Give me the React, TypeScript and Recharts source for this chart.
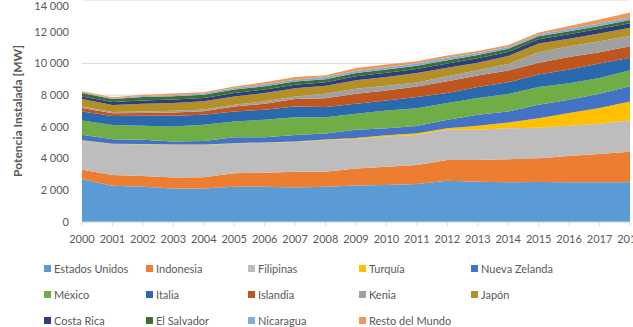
import React from "react";
import { AreaChart, Area, XAxis, YAxis, CartesianGrid } from "recharts";

const years = ["2000","2001","2002","2003","2004","2005","2006","2007","2008","2009","2010","2011","2012","2013","2014","2015","2016","2017","2018"];

const estadosUnidos = [2690,2280,2220,2120,2120,2220,2220,2180,2220,2300,2330,2390,2600,2535,2500,2520,2500,2500,2500];
const indonesia     = [610,680,680,690,700,850,890,990,950,1080,1155,1200,1310,1375,1455,1495,1660,1790,1935];
const filipinas     = [1830,1960,2000,2050,2040,1880,1880,1870,1990,1860,1900,1900,1900,1900,1965,1935,1905,1900,1965];
const turquia       = [20,20,20,20,20,20,30,40,40,60,80,100,110,255,355,600,805,995,1205];
const nuevaZelanda  = [350,280,260,190,230,380,330,410,380,510,450,470,525,700,695,845,840,905,950];
const mexico        = [900,900,890,950,1020,990,1100,1120,1020,1015,1115,1120,1060,1060,1105,1120,1040,995,1015];
const italia        = [570,570,630,680,640,630,630,670,650,635,635,700,635,695,735,780,860,905,785];
const islandia      = [215,170,170,210,210,320,380,470,550,635,635,670,735,715,740,755,800,715,735];
const kenia         = [105,80,100,110,110,110,150,160,280,315,300,250,315,335,420,650,675,695,635];
const japon         = [470,440,490,490,520,520,530,530,520,525,550,600,530,480,500,550,470,490,530];
const costaRica     = [160,190,210,210,210,220,210,210,210,250,255,250,275,280,250,270,290,295,275];
const elSalvador    = [220,190,215,210,210,210,210,210,200,210,210,210,210,200,210,200,190,170,210];
const nicaragua     = [50,50,60,70,70,100,110,110,140,130,125,130,150,120,110,110,150,170,150];
const restoDelMundo = [50,60,80,100,90,100,140,170,100,180,190,150,150,130,120,120,180,250,315];

const yTicks = [0,2000,4000,6000,8000,10000,12000,14000];

const seriesNames = ["Estados Unidos","Indonesia","Filipinas","Turquía","Nueva Zelanda","México","Italia","Islandia","Kenia","Japón","Costa Rica","El Salvador","Nicaragua","Resto del Mundo"];
const seriesValues = [estadosUnidos,indonesia,filipinas,turquia,nuevaZelanda,mexico,italia,islandia,kenia,japon,costaRica,elSalvador,nicaragua,restoDelMundo];
const seriesColors = ["#5B9BD5","#ED7D31","#BDBDBD","#FFC000","#4472C4","#70AD47","#2A69AE","#C0561F","#A0A0A0","#B38F26","#2B3F7E","#3F6E30","#7CAFDD","#F1975A"];

const data = years.map((y, i) => {
  const row: Record<string, string | number> = { year: y };
  seriesNames.forEach((n, k) => { row[n] = seriesValues[k][i]; });
  return row;
});

const fmt = (v: number) => String(v).replace(/\B(?=(\d{3})+(?!\d))/g, " ");

const FONT = "Lato, 'Open Sans', sans-serif";
const legendCols = [44, 146, 248, 359, 471];
const legendRows = [268, 294, 320];

export default function App() {
  return (
    <div style={{ position: "absolute", left: 0, top: 0, width: 633, height: 327, overflow: "hidden", background: "#fff", fontFamily: FONT }}>
      <AreaChart width={660} height={250} data={data} margin={{ top: 0, right: 30, left: 0, bottom: 0 }}>
        <CartesianGrid vertical={false} stroke="#D9D9D9" />
        <XAxis
          dataKey="year"
          interval={0}
          height={28}
          tickSize={4}
          tickMargin={9}
          axisLine={{ stroke: "#D9D9D9" }}
          tickLine={{ stroke: "#D9D9D9" }}
          tick={{ fill: "#595959", fontSize: 11, fontFamily: FONT }}
        />
        <YAxis
          width={82}
          domain={[0, 14000]}
          ticks={yTicks}
          tickFormatter={fmt}
          axisLine={false}
          tickLine={false}
          tickSize={0}
          tickMargin={13}
          tick={{ fill: "#595959", fontSize: 11, fontFamily: FONT }}
          label={{
            content: () => (
              <text
                x={17}
                y={111}
                transform="rotate(-90, 17, 111)"
                textAnchor="middle"
                dominantBaseline="central"
                fill="#595959"
                fontSize={12}
                fontWeight="bold"
                fontFamily={FONT}
              >
                Potencia Instalada [MW]
              </text>
            ),
          }}
        />
        {seriesNames.map((n, k) => (
          <Area
            key={n}
            type="linear"
            dataKey={n}
            stackId="1"
            stroke="none"
            fill={seriesColors[k]}
            fillOpacity={1}
            isAnimationActive={false}
            dot={false}
            activeDot={false}
          />
        ))}
      </AreaChart>
      {seriesNames.map((n, k) => (
        <div
          key={n}
          style={{
            position: "absolute",
            left: legendCols[k % 5],
            top: legendRows[Math.floor(k / 5)] - 8,
            height: 16,
            display: "flex",
            alignItems: "center",
            whiteSpace: "nowrap",
            fontSize: 11,
            color: "#595959",
            fontFamily: FONT,
          }}
        >
          <span style={{ display: "inline-block", width: 7, height: 7, background: seriesColors[k], marginRight: 3 }} />
          {n}
        </div>
      ))}
    </div>
  );
}
